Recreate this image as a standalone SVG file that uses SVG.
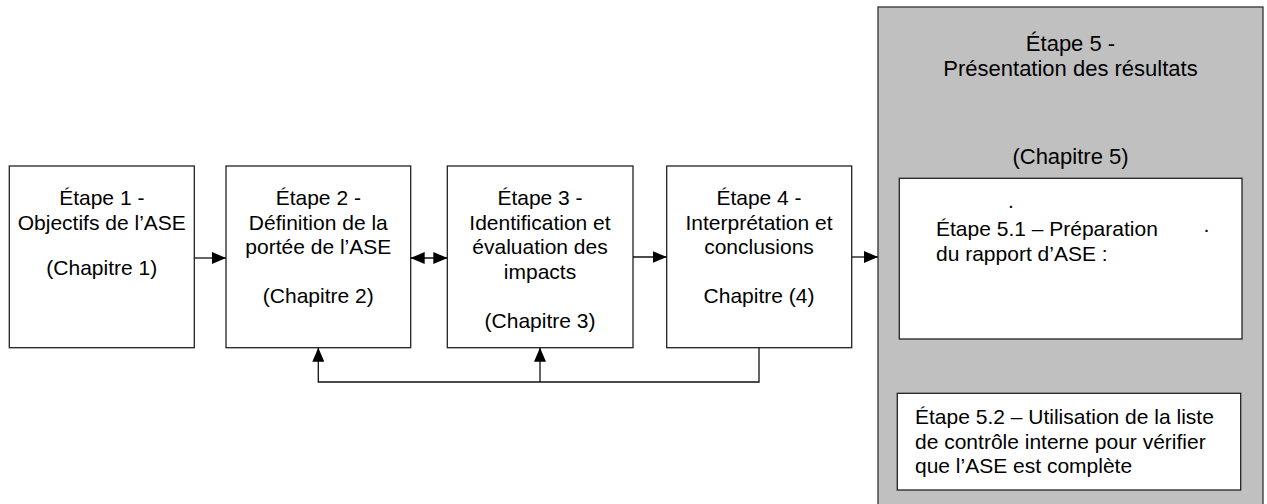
<svg xmlns="http://www.w3.org/2000/svg" width="1267" height="504" viewBox="0 0 1267 504">
  <style>
    .box { fill: #ffffff; stroke: #222222; stroke-width: 1.3; }
    .panel { fill: #c0c0c0; stroke: #333333; stroke-width: 1.3; }
    .lbl { font-family: "Liberation Sans", Arial, sans-serif; font-size: 21px; fill: #000000; }
    .big { font-size: 22px; }
    .mid { text-anchor: middle; }
    .wire { fill: none; stroke: #111111; stroke-width: 1.3; }
  </style>
  <defs>
    <marker id="head" markerUnits="userSpaceOnUse" markerWidth="14" markerHeight="12" refX="14" refY="6" orient="auto-start-reverse">
      <path d="M0,0 L14,6 L0,12 z" fill="#000000"/>
    </marker>
  </defs>

  <rect width="1267" height="504" fill="#ffffff"/>

  <!-- Step 5 container panel -->
  <g id="step5">
    <rect class="panel" x="878" y="7" width="385" height="510"/>
    <text class="lbl big mid" x="1070.5" y="51">Étape 5 -</text>
    <text class="lbl big mid" x="1070.5" y="75.5">Présentation des résultats</text>
    <text class="lbl big mid" x="1070.5" y="164">(Chapitre 5)</text>
  </g>

  <g id="step5-1">
    <rect class="box" x="899.3" y="178.3" width="342.7" height="160.7"/>
    <text class="lbl" x="1008" y="208">.</text>
    <text class="lbl" x="936" y="236">Étape 5.1 –  Préparation</text>
    <text class="lbl" x="1203" y="236">·</text>
    <text class="lbl" x="936" y="261">du rapport d’ASE :</text>
  </g>

  <g id="step5-2">
    <rect class="box" x="897.3" y="393.3" width="343.4" height="96.7"/>
    <text class="lbl" x="915" y="424">Étape 5.2 – Utilisation de la liste</text>
    <text class="lbl" x="915" y="449">de contrôle interne pour vérifier</text>
    <text class="lbl" x="915" y="473">que l’ASE est complète</text>
  </g>

  <g id="step1">
    <rect class="box" x="9.3" y="166" width="185" height="181.7"/>
    <text class="lbl mid" x="101.8" y="205">Étape 1 -</text>
    <text class="lbl mid" x="101.8" y="229.5">Objectifs de l’ASE</text>
    <text class="lbl mid" x="101.8" y="275">(Chapitre 1)</text>
  </g>

  <g id="step2">
    <rect class="box" x="226" y="166" width="184.7" height="181.7"/>
    <text class="lbl mid" x="318.3" y="205">Étape 2 -</text>
    <text class="lbl mid" x="318.3" y="229.5">Définition de la</text>
    <text class="lbl mid" x="318.3" y="254">portée de l’ASE</text>
    <text class="lbl mid" x="318.3" y="303">(Chapitre 2)</text>
  </g>

  <g id="step3">
    <rect class="box" x="447.3" y="166" width="185.7" height="181.7"/>
    <text class="lbl mid" x="540" y="205">Étape 3 -</text>
    <text class="lbl mid" x="540" y="229.5">Identification et</text>
    <text class="lbl mid" x="540" y="254">évaluation des</text>
    <text class="lbl mid" x="540" y="278.5">impacts</text>
    <text class="lbl mid" x="540" y="327.5">(Chapitre 3)</text>
  </g>

  <g id="step4">
    <rect class="box" x="666.7" y="166" width="185" height="181.7"/>
    <text class="lbl mid" x="759" y="205">Étape 4 -</text>
    <text class="lbl mid" x="759" y="229.5">Interprétation et</text>
    <text class="lbl mid" x="759" y="254">conclusions</text>
    <text class="lbl mid" x="759" y="303">Chapitre (4)</text>
  </g>

  <!-- connectors -->
  <g id="connectors">
    <line class="wire" x1="194.3" y1="258" x2="226" y2="258" marker-end="url(#head)"/>
    <line class="wire" x1="410.7" y1="258" x2="447.3" y2="258" marker-start="url(#head)" marker-end="url(#head)"/>
    <line class="wire" x1="633" y1="257" x2="666.7" y2="257" marker-end="url(#head)"/>
    <line class="wire" x1="851.7" y1="257" x2="878" y2="257" marker-end="url(#head)"/>
    <polyline class="wire" points="759,347.7 759,382 318.3,382 318.3,347.7" marker-end="url(#head)"/>
    <line class="wire" x1="540" y1="382" x2="540" y2="347.7" marker-end="url(#head)"/>
  </g>
</svg>
